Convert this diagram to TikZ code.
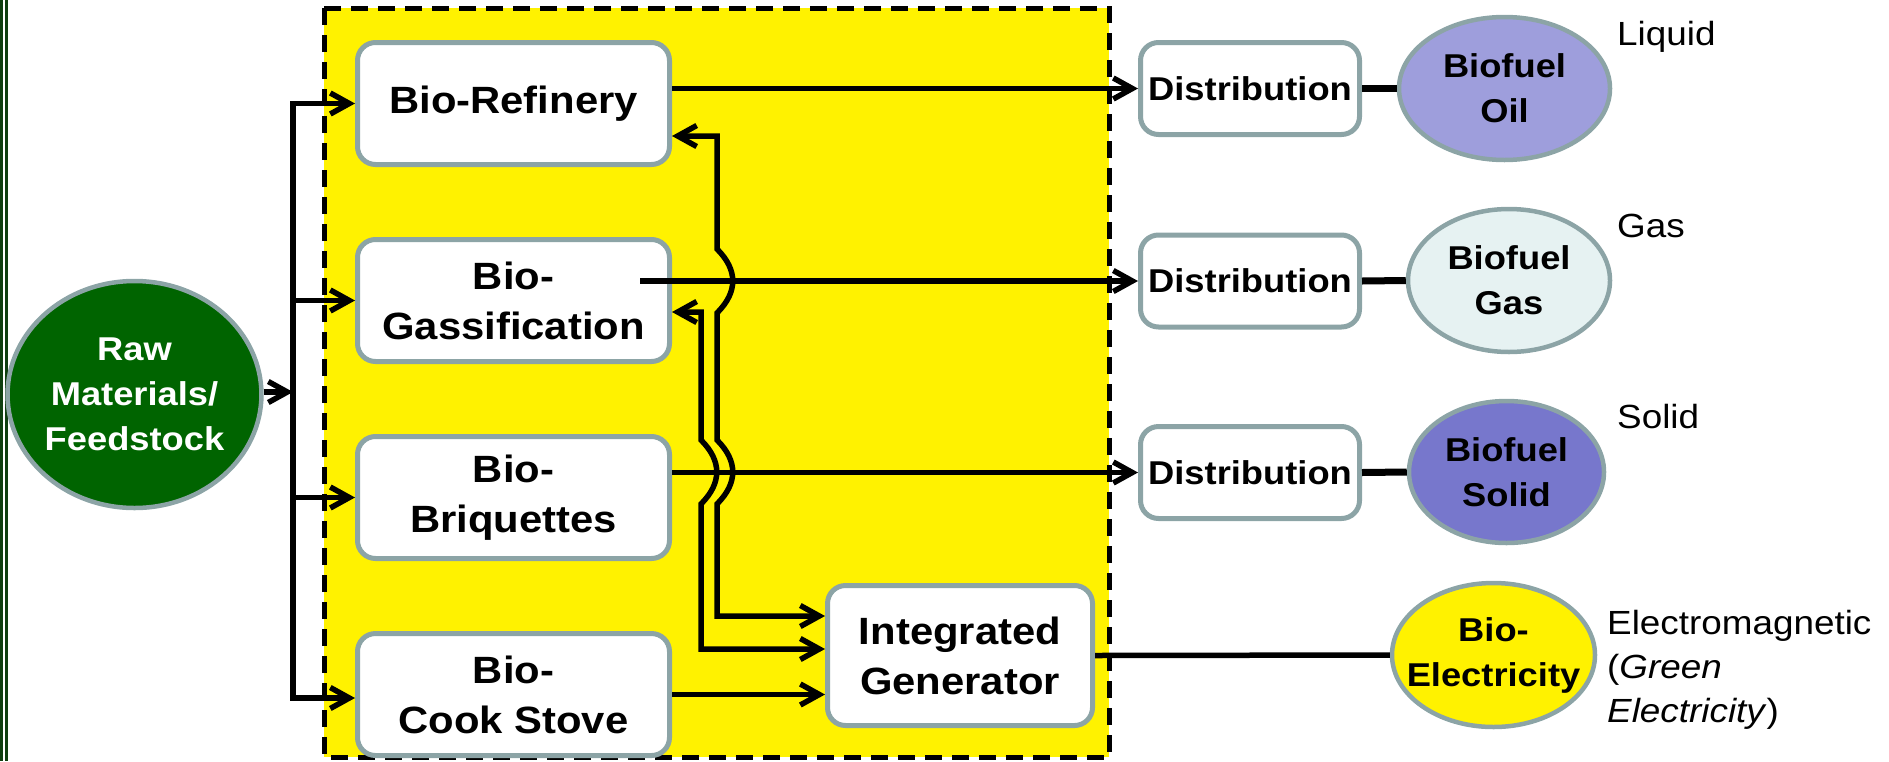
\documentclass[tikz,border=0pt]{standalone}
\usepackage{fontspec}
\setmainfont{Liberation Sans}[FakeStretch=1.1]
\usepackage{tikz}
\usetikzlibrary{shapes.geometric, arrows.meta, positioning}
\definecolor{edgegrey}{HTML}{8CA4A6}
\definecolor{rawgreen}{HTML}{006400}
\definecolor{framegreen}{HTML}{0F3F0F}
\definecolor{oilfill}{HTML}{9E9EDC}
\definecolor{gasfill}{HTML}{E6F2F2}
\definecolor{solidfill}{HTML}{7777CC}
\newcommand{\unitfont}{\fontsize{38}{50}\selectfont\bfseries}
\newcommand{\fuelfont}{\fontsize{33}{45}\selectfont\bfseries}
\newcommand{\lblfont}{\fontsize{33.5}{44}\selectfont}

\begin{document}
\begin{tikzpicture}[
    x=1pt, y=-1pt,
    node distance=70pt,
    unit/.style={rectangle, draw=edgegrey, fill=white, line width=5pt,
                 rounded corners=18pt, minimum width=312pt, minimum height=122pt,
                 align=center, font=\unitfont, inner sep=2pt},
    dist/.style={unit, minimum width=219pt, minimum height=92pt, font=\fuelfont},
    fuel/.style={ellipse, draw=edgegrey, line width=4.5pt, align=center,
                 font=\fuelfont, inner sep=0pt},
    lbl/.style={font=\lblfont, inner sep=0pt},
    arrow/.style={-{Straight Barb[length=19pt, width=21pt]}, line width=5.5pt},
    both/.style={{Straight Barb[length=19pt, width=21pt]}-{Straight Barb[length=19pt, width=21pt]},
                 line width=5.5pt},
    link/.style={line width=5.5pt},
    heavy/.style={line width=7pt},
  ]
  \useasboundingbox (0,0) rectangle (1889,761);

  % frame on the left edge
  \fill[framegreen] (0,0) rectangle (7.5,761);
  \draw[white, line width=2pt] (3.8,0) -- (3.8,761);

  % plant area
  \draw[fill=yellow, line width=5pt, dash pattern=on 17pt off 10pt] (324,8) rectangle (1109,757);

  % feedstock
  \node[fuel, fill=rawgreen, text=white, minimum width=251pt, minimum height=227pt]
    (raw) at (134.5,394.5) {Raw\\Materials/\\Feedstock};

  % conversion units
  \node[unit] (ref) at (513.5,103.5) {Bio-Refinery};
  \node[unit, below=of ref] (gass) {Bio-\\Gassification};
  \node[unit, below=of gass] (briq) {Bio-\\Briquettes};
  \node[unit, below=of briq] (cook) {Bio-\\Cook Stove};
  \node[unit, minimum width=265pt, minimum height=140pt] (ig) at (960,655.5) {Integrated\\Generator};

  % distribution and products
  \node[dist] (dis1) at (1250,88.5) {Distribution};
  \node[dist] (dis2) at (1250,281) {Distribution};
  \node[dist] (dis3) at (1250,472.5) {Distribution};
  \node[fuel, fill=oilfill, minimum width=211pt, minimum height=143pt] (oil) at (1504.5,88.5) {Biofuel\\Oil};
  \node[fuel, fill=gasfill, minimum width=202pt, minimum height=143pt] (gas) at (1509,280.5) {Biofuel\\Gas};
  \node[fuel, fill=solidfill, minimum width=195pt, minimum height=142pt] (solid) at (1506.5,472) {Biofuel\\Solid};
  \node[fuel, fill=yellow, inner xsep=-20pt, minimum width=203pt, minimum height=144pt] (elec) at (1493.5,655) {Bio-\\Electricity};

  \node[lbl, anchor=base west] (liqlbl) at (1617,45) {Liquid};
  \node[lbl, anchor=base west] (gaslbl) at (1617,237) {Gas};
  \node[lbl, anchor=base west] (sollbl) at (1617,428) {Solid};
  \node[lbl, anchor=west, align=left] (emlbl) at (1607,670) {Electromagnetic\\(\textit{Green}\\\textit{Electricity})};

  % feed bus
  \coordinate (bus) at (293,392);
  \draw[arrow] (raw.east |- bus) -- (bus);
  \draw[arrow] (bus |- 0,698) |- (ref.west);
  \draw[arrow] (bus |- ref) |- (cook.west |- 0,698);
  \draw[arrow] (bus |- gass) -- (gass.west);
  \draw[arrow] (bus |- briq) -- (briq.west);

  % outputs
  \coordinate (gassout) at ([xshift=-32pt]gass.east);
  \draw[arrow] (ref.east |- dis1) -- (dis1.west);
  \draw[arrow] (gassout |- dis2) -- (dis2.west);
  \draw[arrow] (briq.east |- dis3) -- (dis3.west);
  \draw[arrow] (cook.east) -- (cook.east -| ig.west);
  \draw[heavy] (dis1.east) -- (oil.west);
  \draw[heavy] (dis2.east) -- (gas.west);
  \draw[heavy] (dis3.east) -- (solid.west);
  \draw[link] (ig.east) -- (elec.west);

  % generator links with hops
  \draw[both] (ref.east |- 0,136) -| (717,249)
    .. controls +(21,21) and +(21,-21) .. (717,313) -- (717,440)
    .. controls +(21,21) and +(21,-21) .. (717,504) |- (ig.west |- 0,616);
  \draw[both] (gass.east |- 0,312) -| (701,440)
    .. controls +(21,21) and +(21,-21) .. (701,504) |- (ig.west |- 0,649);

\end{tikzpicture}
\end{document}
